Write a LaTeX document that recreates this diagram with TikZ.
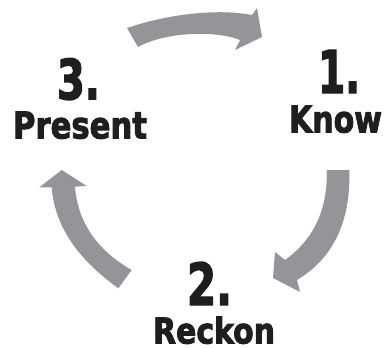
\documentclass[tikz,border=0pt]{standalone}
\usepackage{fontspec}
\setmainfont{Liberation Sans}
\newfontfamily\lblfont[BoldFeatures={FakeBold=2.5}]{DejaVu Sans Condensed}
\usepackage{graphicx}
\definecolor{arrowgray}{RGB}{147,149,153}
\definecolor{textblack}{RGB}{30,30,30}
\newcommand{\fitlbl}[3]{\resizebox{#1pt}{#2pt}{\lblfont\bfseries #3}}
\tikzset{
  lbl/.style={anchor=south west, inner sep=0pt, outer sep=0pt, text=textblack},
  bigarrow/.style={fill=arrowgray, draw=none}
}
\begin{document}
\begin{tikzpicture}[x=1pt,y=-1pt]
\useasboundingbox (0,0) rectangle (386,348);
% arrows
\path[bigarrow] (127,28) .. controls (165,15) and (215,8) .. (252,15)
  -- (257,8) -- (262,37) -- (235,50) -- (240,40)
  .. controls (215,30) and (165,32) .. (138,47) -- cycle;
\path[bigarrow] (326.7,170) -- (349.3,170) .. controls (351,220) and (334,258) .. (297,280)
  -- (300,292) -- (273,278) -- (275,252) -- (285,260)
  .. controls (313,240) and (328,210) .. (326.7,170) -- cycle;
\path[bigarrow] (61.7,170) -- (86.7,186) -- (75,186.7)
  .. controls (78,225) and (100,252) .. (131.7,270) -- (118.3,288.3)
  .. controls (82,262) and (55,230) .. (51.7,187.3) -- (39.3,187.3) -- cycle;
% labels
\node[lbl] (n1) at (318,93) {\fitlbl{42}{43}{1.}};
\node[lbl] (t1) at (289,133) {\fitlbl{93}{27}{Know}};
\node[lbl] (n3) at (57,100) {\fitlbl{43}{41}{3.}};
\node[lbl] (t3) at (13,139) {\fitlbl{134}{27}{Present}};
\node[lbl] (n2) at (187,305) {\fitlbl{45}{43}{2.}};
\node[lbl] (t2) at (153,344) {\fitlbl{122}{27}{Reckon}};
\end{tikzpicture}
\end{document}
